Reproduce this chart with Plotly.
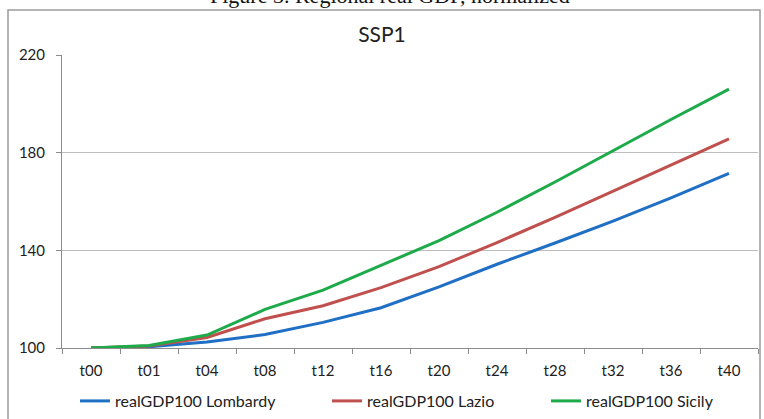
import plotly.graph_objects as go

categories = ["t00", "t01", "t04", "t08", "t12", "t16", "t20", "t24", "t28", "t32", "t36", "t40"]
lombardy = [100, 100.5, 102.5, 105.5, 110.5, 116.5, 125, 134.3, 143, 152, 161.5, 171.5]
lazio = [100, 100.8, 104.3, 112, 117.3, 124.7, 133.3, 143.2, 153.5, 164.3, 174.8, 185.6]
sicily = [100, 101, 105.3, 115.8, 123.7, 134, 144, 155.6, 168, 180.8, 193.6, 206]
y_ticks = [100, 140, 180, 220]

series = [
    ("realGDP100 Lombardy", lombardy, "#1F6FC5", "legend"),
    ("realGDP100 Lazio", lazio, "#C0504D", "legend2"),
    ("realGDP100 Sicily", sicily, "#1DAA4A", "legend3"),
]

FONT = "Lato, Open Sans, sans-serif"
W, H = 764, 419
ML, MR, MT, MB = 62, 6, 55, 71
PW, PH = W - ML - MR, H - MT - MB


def px_x(x):
    return (x - ML) / PW


def px_y(y):
    return (H - MB - y) / PH


fig = go.Figure()
for name, vals, col, lg in series:
    fig.add_trace(go.Scatter(x=categories, y=vals, mode="lines", name=name, legend=lg,
                             line=dict(color=col, width=3)))

legend_common = dict(orientation="h", yanchor="middle", yref="container", y=1 - 401 / H,
                     xref="container", xanchor="left",
                     font=dict(family=FONT, size=16, color="#222222"),
                     bgcolor="rgba(0,0,0,0)", borderwidth=0, tracegroupgap=0)

fig.update_layout(
    width=W, height=H,
    margin=dict(l=ML, r=MR, t=MT, b=MB, autoexpand=False),
    paper_bgcolor="white", plot_bgcolor="white",
    font=dict(family=FONT, size=15, color="#222222"),
    title=dict(text="SSP1", x=0.5, xanchor="center", y=1 - 35 / H, yanchor="middle",
               font=dict(family=FONT, size=21, color="#222222")),
    showlegend=True,
    legend=dict(legend_common, x=(78 - 3) / W),
    legend2=dict(legend_common, x=(331 - 4) / W),
    legend3=dict(legend_common, x=(555 - 9) / W),
    xaxis=dict(type="category", showgrid=False, showline=True, linecolor="#8C8C8C", linewidth=1,
               ticks="outside", ticklen=5, tickcolor="#8C8C8C", tickson="boundaries",
               tickfont=dict(family=FONT, size=15, color="#222222"), zeroline=False,
               automargin=False, ticklabelstandoff=9,
               range=[-0.5, len(categories) - 0.5]),
    yaxis=dict(range=[100, 220], tickvals=y_ticks, showgrid=True, gridcolor="#BDBDBD", gridwidth=1,
               showline=True, linecolor="#8C8C8C", linewidth=1, ticks="outside", ticklen=5,
               tickcolor="#8C8C8C", tickfont=dict(family=FONT, size=15, color="#222222"),
               zeroline=False, ticklabelstandoff=8, automargin=False),
    shapes=[dict(type="rect", xref="paper", yref="paper",
                 x0=px_x(8), x1=px_x(760), y0=px_y(440), y1=px_y(10),
                 line=dict(color="#9A9A9A", width=1.5), fillcolor="rgba(0,0,0,0)", layer="below")],
    annotations=[dict(text="Figure 3. Regional real GDP, normalized", xref="paper", yref="paper",
                      x=px_x(390), xanchor="center", y=px_y(10), yanchor="bottom",
                      showarrow=False,
                      font=dict(family="Liberation Serif, serif", size=22, color="#111111"))],
)

fig.write_html("out.html")
